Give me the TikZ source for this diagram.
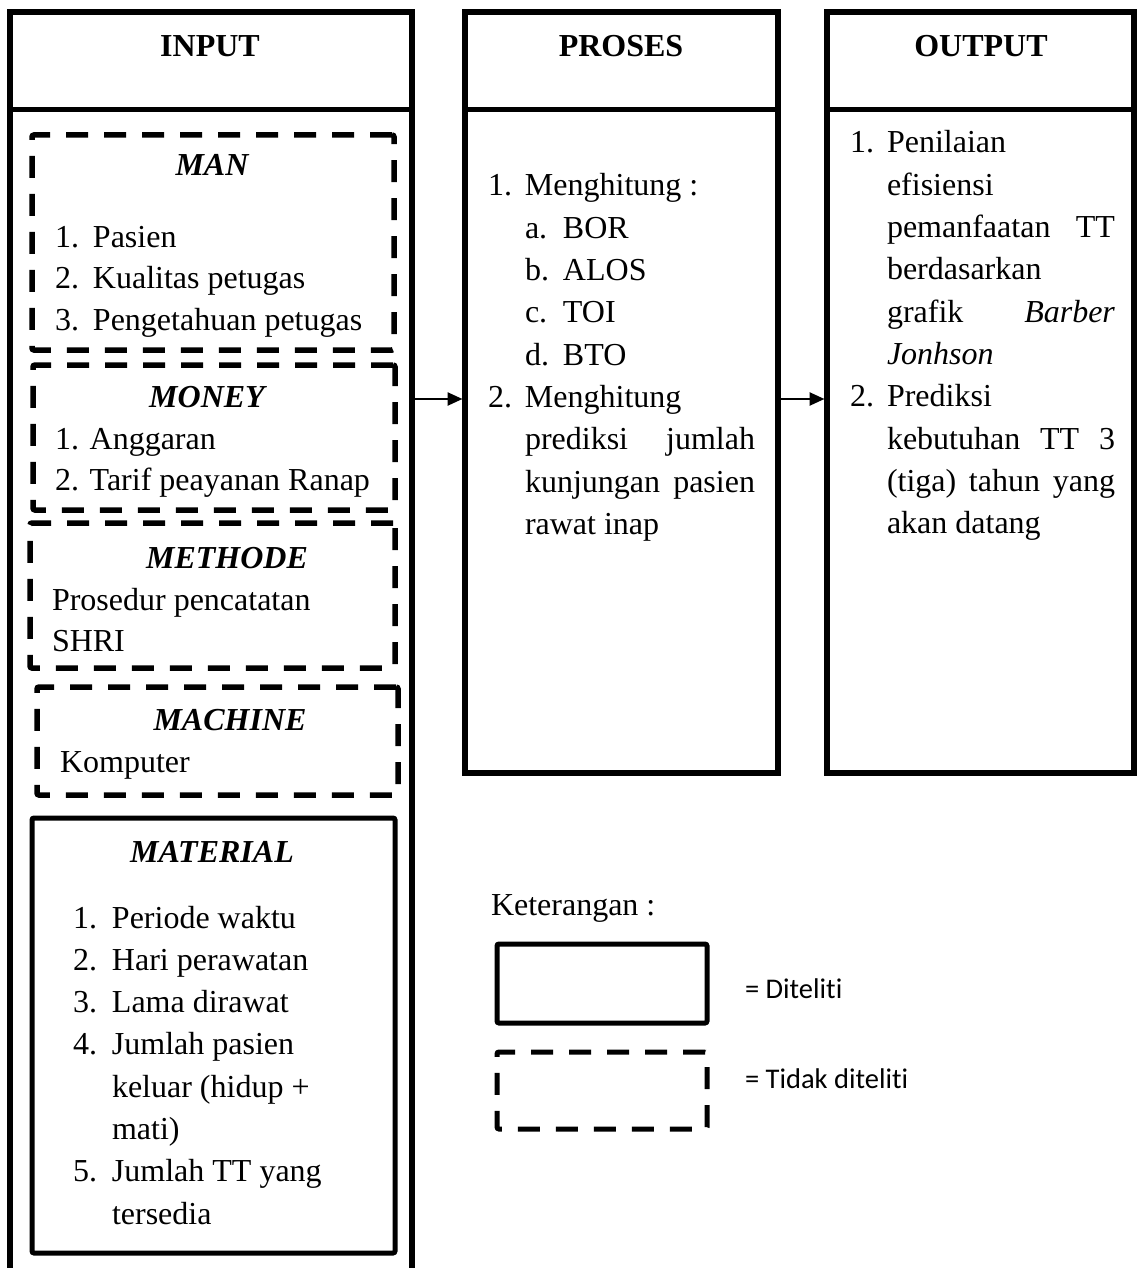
\documentclass[tikz,border=0pt]{standalone}
\usepackage{fontspec}
\setmainfont{Liberation Serif}
\newfontfamily\legendfont[Ligatures={NoCommon,NoDiscretionary,NoRare},Contextuals=NoAlternate]{Carlito}
\usetikzlibrary{arrows.meta}
\newcommand\bigsize{\fontsize{32}{42.3}\selectfont}
\newcommand\numb[2][38pt]{\makebox[#1][l]{#2}}
\begin{document}
\begin{tikzpicture}[x=1pt,y=-1pt,
  every node/.style={inner sep=0pt,outer sep=0pt},
  font=\bigsize,
  solidbox/.style={draw,line width=5.5pt,anchor=north west,line join=miter},
  legsolid/.style={draw,line width=5pt,anchor=north west,rounded corners=2pt},
  dashbox/.style={draw,line width=5.5pt,anchor=north west,dash pattern=on 22pt off 16pt,rounded corners=2pt},
  divider/.style={line width=5pt},
  arr/.style={line width=2.5pt,-{Triangle[length=15pt,width=13pt]},shorten >=2.5pt},
  title/.style={anchor=base,font=\bigsize\bfseries},
  subtitle/.style={anchor=base,font=\bigsize\bfseries\itshape},
  txt/.style={anchor=base west},
  legtxt/.style={anchor=base west,font=\legendfont\fontsize{28.5}{34}\selectfont}
]
\useasboundingbox (0,0) rectangle (1137,1268);
\fill[white] (0,0) rectangle (1137,1268);

% main boxes
\node[solidbox,minimum width=402pt,minimum height=1260pt] (input) at (10,12) {};
\node[solidbox,minimum width=313pt,minimum height=761pt] (proses) at (465,12) {};
\node[solidbox,minimum width=307pt,minimum height=761pt] (output) at (827,12) {};
\coordinate (hd) at (0,110);
\draw[divider] (input.west |- hd) -- (input.east |- hd);
\draw[divider] (proses.west |- hd) -- (proses.east |- hd);
\draw[divider] (output.west |- hd) -- (output.east |- hd);

\node[title] (tin) at (210,57) {INPUT};
\node[title] (tpr) at (621,57) {PROSES};
\node[title] (tout) at (981,57) {OUTPUT};

% input sub boxes
\node[dashbox,minimum width=362pt,minimum height=215pt] (man) at (32,135) {};
\node[dashbox,minimum width=362pt,minimum height=145pt] (money) at (33,365) {};
\node[dashbox,minimum width=365pt,minimum height=145pt] (methode) at (30,523) {};
\node[dashbox,minimum width=361pt,minimum height=108pt] (machine) at (37,687) {};
\node[solidbox,line width=5pt,rounded corners=2pt,minimum width=363pt,minimum height=435pt] (material) at (32,818) {};

\node[subtitle] (tman) at (212,176) {MAN};
\node[txt] (lman) at (55,247) {\fontsize{32}{41.5}\selectfont\begin{tabular}[t]{@{}l@{}}
\numb{1.}Pasien\\
\numb{2.}Kualitas petugas\\
\numb{3.}Pengetahuan petugas
\end{tabular}};

\node[subtitle] (tmoney) at (207,407) {MONEY};
\node[txt] (lmoney) at (55,449) {\fontsize{32}{41.5}\selectfont\begin{tabular}[t]{@{}l@{}}
1. Anggaran\\
2. Tarif peayanan Ranap
\end{tabular}};

\node[subtitle] (tmethode) at (227,568) {METHODE};
\node[txt] (lmethode) at (52,610) {\fontsize{32}{41.5}\selectfont\begin{tabular}[t]{@{}l@{}}
Prosedur pencatatan\\
SHRI
\end{tabular}};

\node[subtitle] (tmachine) at (230,730) {MACHINE};
\node[txt] (lmachine) at (60,772) {Komputer};

\node[subtitle] (tmaterial) at (212,862) {MATERIAL};
\node[txt] (lmaterial) at (73,928) {\begin{tabular}[t]{@{}l@{}}
\numb[39pt]{1.}Periode waktu\\
\numb[39pt]{2.}Hari perawatan\\
\numb[39pt]{3.}Lama dirawat\\
\numb[39pt]{4.}Jumlah pasien\\
\hspace{39pt}keluar (hidup +\\
\hspace{39pt}mati)\\
\numb[39pt]{5.}Jumlah TT yang\\
\hspace{39pt}tersedia
\end{tabular}};

% proses list
\node[txt] (lproses) at (488,196) {\begin{tabular}[t]{@{}l@{}}
\numb[37pt]{1.}Menghitung :\\
\hspace{37pt}\numb{a.}BOR\\
\hspace{37pt}\numb{b.}ALOS\\
\hspace{37pt}\numb{c.}TOI\\
\hspace{37pt}\numb{d.}BTO\\
\numb[37pt]{2.}Menghitung\\
\hspace{37pt}\makebox[230pt][s]{prediksi jumlah}\\
\hspace{37pt}\makebox[230pt][s]{kunjungan pasien}\\
\hspace{37pt}rawat inap
\end{tabular}};

% output list
\node[txt] (loutput) at (850,153) {\begin{tabular}[t]{@{}l@{}}
\numb[37pt]{1.}Penilaian\\
\hspace{37pt}efisiensi\\
\hspace{37pt}\makebox[228pt][s]{pemanfaatan TT}\\
\hspace{37pt}berdasarkan\\
\hspace{37pt}\makebox[228pt][s]{grafik \textit{Barber}}\\
\hspace{37pt}\textit{Jonhson}\\
\numb[37pt]{2.}Prediksi\\
\hspace{37pt}\makebox[228pt][s]{kebutuhan TT 3}\\
\hspace{37pt}\makebox[228pt][s]{(tiga) tahun yang}\\
\hspace{37pt}akan datang
\end{tabular}};

% arrows
\coordinate (ay) at (0,399);
\draw[arr] (input.east |- ay) -- (proses.west |- ay);
\draw[arr] (proses.east |- ay) -- (output.west |- ay);

% legend
\node[txt] (ket) at (491,915) {Keterangan :};
\node[legsolid,minimum width=210pt,minimum height=79pt] (legs) at (497,944) {};
\node[dashbox,line width=5pt,minimum width=210pt,minimum height=77pt] (legd) at (497,1052) {};
\node[legtxt] (legst) at (745,998) {= Diteliti};
\node[legtxt] (legdt) at (745,1088) {= Tidak diteliti};
\end{tikzpicture}
\end{document}
